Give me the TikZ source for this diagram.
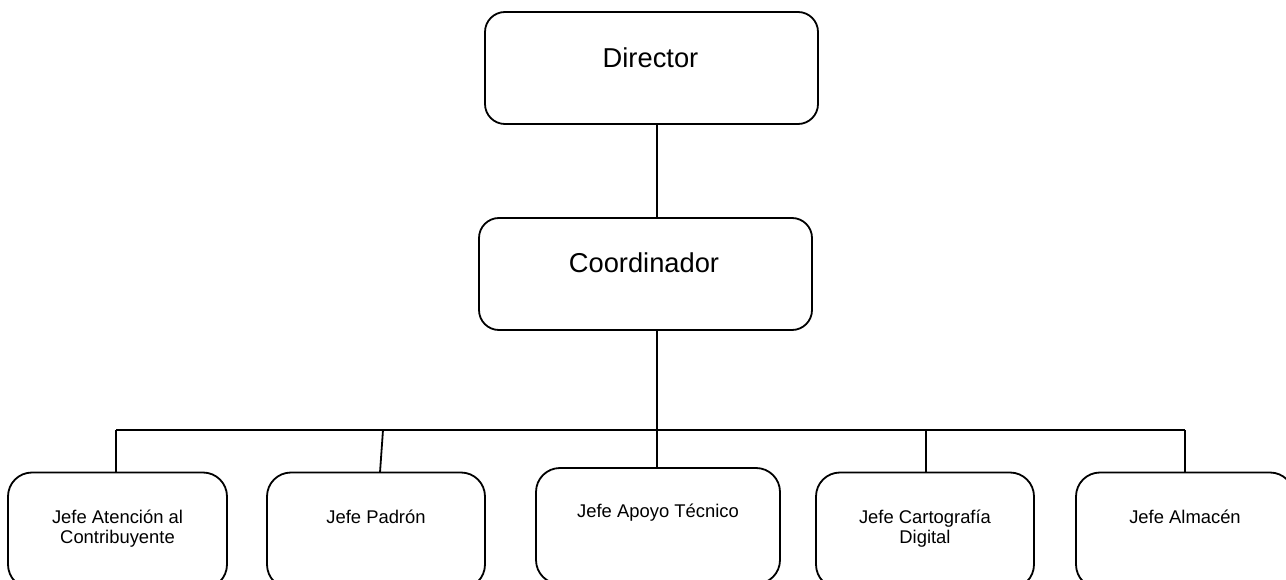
\documentclass[tikz,border=0pt]{standalone}
\usepackage{fontspec}
\setmainfont{Liberation Sans}
\begin{document}
\begin{tikzpicture}[x=1pt,y=-1pt,
  line width=1.8pt,
  topbox/.style={draw, rounded corners=20pt, minimum width=333pt, minimum height=112pt, inner sep=0pt},
  jefebox/.style={draw, rounded corners=24pt, minimum height=116pt, inner sep=0pt},
  toptext/.style={font=\fontsize{27.3}{32}\selectfont, inner sep=0pt},
  jefetext/.style={font=\fontsize{18.4}{19.8}\selectfont, align=center, anchor=north, inner sep=0pt},
  link/.style={line width=1.8pt}]
\useasboundingbox (0,0) rectangle (1286,580);
\clip (0,0) rectangle (1286,580);

% upper levels
\node[topbox] (dir) at (651.5,68) {};
\node[toptext] (dirt) at (650.5,58) {Director};
\node[topbox] (coord) at (645.5,274) {};
\node[toptext] (coordt) at (644,263) {Coordinador};

% heads of department (boxes run past the lower edge)
\node[jefebox, minimum width=219pt] (b1) at (117.5,530.5) {};
\node[jefebox, minimum width=218pt] (b2) at (376,530.5) {};
\node[jefebox, minimum width=244pt] (b3) at (658,526) {};
\node[jefebox, minimum width=218pt] (b4) at (925,530.5) {};
\node[jefebox, minimum width=218pt] (b5) at (1185,530.5) {};

\node[jefetext] (t1) at (117.5,509) {Jefe Atención al\\Contribuyente};
\node[jefetext] (t2) at (376,509) {Jefe Padrón};
\node[jefetext] (t3) at (658,503) {Jefe Apoyo Técnico};
\node[jefetext] (t4) at (925,509) {Jefe Cartografía\\Digital};
\node[jefetext] (t5) at (1185,509) {Jefe Almacén};

% connectors
\coordinate (trunk) at (657,0);
\coordinate (busL) at (116,430);
\coordinate (busR) at (1185,430);
\coordinate (busM) at (657,430);
\coordinate (d2) at (383,430);
\coordinate (d4) at (926,430);
\draw[link] (dir.south -| trunk) -- (coord.north -| trunk);
\draw[link] (coord.south -| trunk) -- (busM);
\draw[link] (busL) -- (busR);
\draw[link] (busL) -- (b1.north -| busL);
\draw[link] (d2) -- (380,472.5);
\draw[link] (busM) -- (b3.north -| busM);
\draw[link] (d4) -- (b4.north -| d4);
\draw[link] (busR) -- (b5.north -| busR);
\end{tikzpicture}
\end{document}
